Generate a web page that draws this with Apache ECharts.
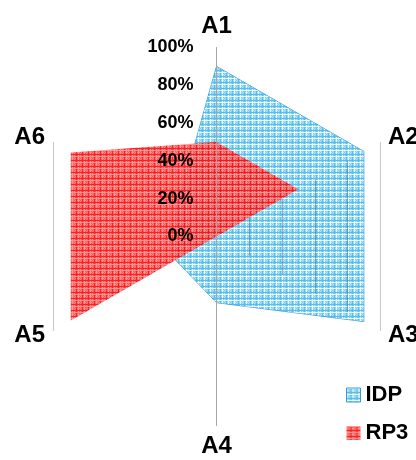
<!DOCTYPE html>
<html>
<head>
<meta charset="utf-8">
<script src="https://cdn.jsdelivr.net/npm/echarts@6/dist/echarts.min.js"></script>
<style>
  html, body { margin: 0; padding: 0; background: #fff; }
  #chart { width: 416px; height: 460px; }
</style>
</head>
<body>
<div id="chart"></div>
<script>
// Radar axes and series values (percent)
const axes = ['A1', 'A2', 'A3', 'A4', 'A5', 'A6'];
const seriesNames = ['IDP', 'RP3'];
const idpValues = [90, 90, 90, 35, 25, 25];
const rp3Values = [50, 50, 0, 0, 89, 89];
const ringLevels = [20, 40, 60, 80, 100];
const tickStep = 20;

// ECharts lays radar indicators out counter-clockwise; walk the axes
// in reverse after the first one so they run clockwise from the top.
const order = [0].concat(axes.slice(1).map((_, i) => axes.length - 1 - i));
const clockwise = arr => order.map(i => arr[i]);

// Layout of the radar
const CX = 216.5, CY = 236.5, R = 189;
const COS30 = Math.cos(Math.PI / 6);
const FONT = 'Arial, "Liberation Sans", sans-serif';

// Small plaid tiles used as fill patterns
function makeTile(rows, palette) {
  const c = document.createElement('canvas');
  c.width = rows[0].length; c.height = rows.length;
  const ctx = c.getContext('2d');
  rows.forEach((row, y) => {
    for (let x = 0; x < row.length; x++) {
      ctx.fillStyle = palette[row[x]];
      ctx.fillRect(x, y, 1, 1);
    }
  });
  return c;
}
const plaidRows = [
  'WWWWWW',
  'WbLbDb',
  'WLbLDL',
  'WbLbDb',
  'DDDDDD',
  'WbLbDb'
];
const blueTile = makeTile(plaidRows, {
  W: 'rgba(236,249,254,0.9)', b: 'rgba(115,203,243,0.9)', L: 'rgba(165,224,249,0.9)', D: 'rgba(72,182,234,0.9)'
});
const redTile = makeTile(plaidRows, {
  W: 'rgba(255,140,140,0.92)', b: 'rgba(255,72,72,0.92)', L: 'rgba(255,115,115,0.92)', D: 'rgba(250,15,15,0.92)'
});
const bluePattern = { image: blueTile, repeat: 'repeat' };
const redPattern = { image: redTile, repeat: 'repeat' };

const chart = echarts.init(document.getElementById('chart'), null, { renderer: 'canvas' });

const option = {
  animation: false,
  backgroundColor: '#fff',
  textStyle: { fontFamily: FONT },
  legend: {
    orient: 'vertical',
    left: 341,
    top: 379,
    itemWidth: 14,
    itemHeight: 14,
    itemGap: 16,
    textStyle: { fontSize: 22, fontWeight: 'bold', color: '#000', fontFamily: FONT },
    data: [
      { name: seriesNames[0], icon: 'rect', itemStyle: { color: bluePattern, borderColor: '#3a9ad8', borderWidth: 1 } },
      { name: seriesNames[1], icon: 'rect', itemStyle: { color: redPattern, borderWidth: 0 } }
    ]
  },
  radar: {
    center: [CX, CY],
    radius: R,
    startAngle: 90,
    shape: 'polygon',
    splitNumber: 5,
    nameGap: 9,
    indicator: clockwise(axes).map(name => ({ name: name, min: 0, max: 100 })),
    axisName: { color: '#000', fontSize: 24, fontWeight: 'bold', fontFamily: FONT },
    axisLine: { show: false },
    splitLine: { show: false },
    splitArea: { show: false },
    axisTick: { show: false },
    axisLabel: { show: false }
  },
  grid: [
    // central vertical axis carrying the percent labels
    { left: CX, top: CY - R, width: 1, height: 2 * R, containLabel: false },
    // frame for the vertical ring edges
    { left: CX - R * COS30, top: CY - R, width: 2 * R * COS30, height: 2 * R, containLabel: false }
  ],
  xAxis: [
    { gridIndex: 0, type: 'value', min: 0, max: 1, show: false },
    { gridIndex: 1, type: 'value', min: -100 * COS30, max: 100 * COS30, show: false }
  ],
  yAxis: [
    {
      gridIndex: 0, type: 'value', min: -100, max: 100, interval: tickStep, position: 'left', z: 10,
      axisLine: { show: true, lineStyle: { color: '#a6a6a6', width: 1 } },
      axisTick: { show: false },
      splitLine: { show: false },
      axisLabel: {
        margin: 23, fontSize: 18, fontWeight: 'bold', color: '#000', fontFamily: FONT,
        formatter: v => (v >= 0 ? v + '%' : '')
      }
    },
    { gridIndex: 1, type: 'value', min: -100, max: 100, show: false }
  ],
  series: [
    {
      name: seriesNames[0],
      type: 'radar',
      z: 1,
      symbol: 'none',
      lineStyle: { color: '#3a9ad8', width: 1 },
      itemStyle: { color: '#3a9ad8' },
      areaStyle: { color: bluePattern, opacity: 1 },
      data: [{ value: clockwise(idpValues), name: seriesNames[0] }]
    },
    {
      // vertical edges of the radar rings
      type: 'custom',
      xAxisIndex: 1,
      yAxisIndex: 1,
      z: 2,
      silent: true,
      data: ringLevels.map(v => [v]),
      renderItem: function (params, api) {
        const k = api.value(0);
        const w = k * COS30, h = k / 2;
        const snap = p => Math.round(p) + 0.5;
        const edge = sx => {
          const p1 = api.coord([sx * w, h]);
          const p2 = api.coord([sx * w, -h]);
          return {
            type: 'line',
            shape: { x1: snap(p1[0]), y1: p1[1], x2: snap(p2[0]), y2: p2[1] },
            style: { stroke: k === 100 ? '#c8c8c8' : 'rgba(70,100,125,0.5)', lineWidth: 1 }
          };
        };
        return { type: 'group', children: [edge(1), edge(-1)] };
      }
    },
    {
      name: seriesNames[1],
      type: 'radar',
      z: 3,
      symbol: 'none',
      lineStyle: { width: 0 },
      itemStyle: { color: '#ff3030' },
      areaStyle: { color: redPattern, opacity: 1 },
      data: [{ value: clockwise(rp3Values), name: seriesNames[1] }]
    }
  ]
};

chart.setOption(option);
</script>
</body>
</html>
